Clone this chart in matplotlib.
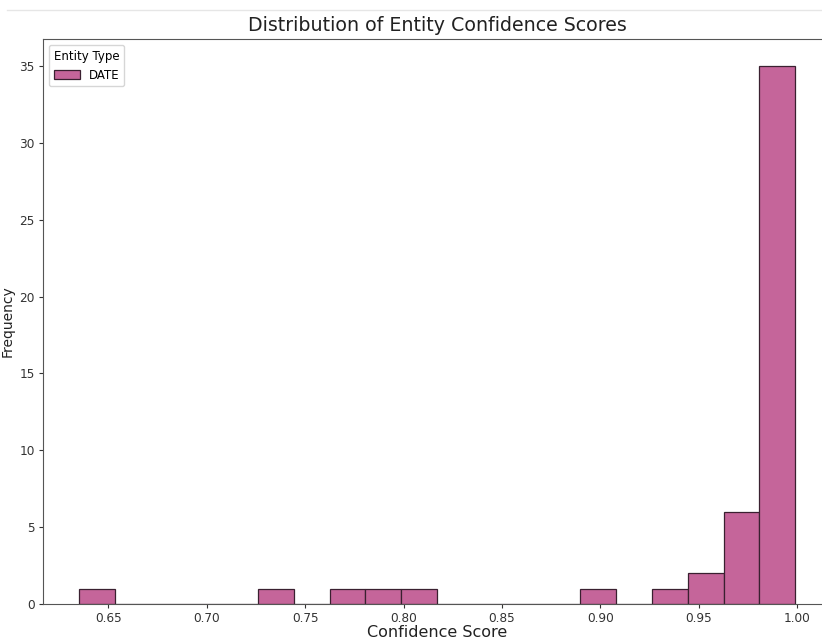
import matplotlib.pyplot as plt
import numpy as np
from matplotlib.lines import Line2D

# histogram of entity confidence scores, 20 bins between min and max score
score_min = 0.635
score_max = 0.999
n_bins = 20
counts = [1, 0, 0, 0, 0, 1, 0, 1, 1, 1, 0, 0, 0, 0, 1, 0, 1, 2, 6, 35]
entity_type = "DATE"

edges = np.linspace(score_min, score_max, n_bins + 1)

fig = plt.figure(figsize=(8.22, 6.44), dpi=100)
ax = fig.add_axes([0.0523, 0.0621, 0.9586, 0.877])

ax.hist(edges[:-1], bins=edges, weights=counts, color="#c5659a",
        edgecolor="#3a2030", linewidth=0.9, label=entity_type)

ax.set_title("Distribution of Entity Confidence Scores", fontsize=13.7, color="#222222", pad=6)
ax.set_xlabel("Confidence Score", fontsize=11.5, labelpad=0, color="#222222")
ax.set_ylabel("Frequency", fontsize=10, labelpad=3, color="#222222")
ax.set_xticks([0.65, 0.70, 0.75, 0.80, 0.85, 0.90, 0.95, 1.00])
ax.set_yticks([0, 5, 10, 15, 20, 25, 30, 35])
ax.tick_params(labelsize=8.7, length=3, pad=3, colors="#333333")
for s in ax.spines.values():
    s.set_color("#555555")

ax.legend(title="Entity Type", loc="upper left", fontsize=8.5, title_fontsize=8.5,
          handlelength=2.2, handleheight=0.8)

# faint notebook border line at the top
fig.add_artist(Line2D([0.009, 1.0], [0.984, 0.984], transform=fig.transFigure,
                      color="#e6e6e6", linewidth=1))

fig.savefig("out.png", dpi=100)
